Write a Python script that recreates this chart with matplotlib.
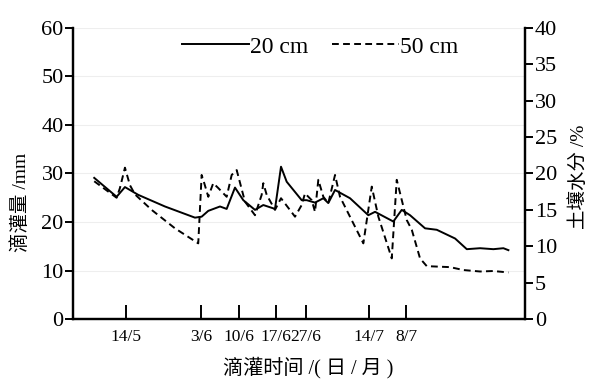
import matplotlib.pyplot as plt

# Fonts: serif for numbers, CJK fallback for Chinese
plt.rcParams["font.family"] = ["Liberation Serif", "Noto Sans CJK SC"]

# Data (x in relative position along the time axis, 0-100; y in mm on left axis)
x_20 = [4.61, 9.57, 11.41, 14.35, 20.27, 26.91, 28.39, 29.86, 32.45, 33.93, 35.77, 37.61,
        40.20, 42.04, 44.63, 45.96, 47.22, 50.54, 51.65, 53.49, 55.33, 56.43, 57.92, 61.24,
        65.29, 66.78, 70.83, 72.69, 74.53, 77.85, 80.44, 84.50, 87.09, 90.03, 92.98, 95.19, 96.30]
y_20 = [29.1, 25.2, 27.2, 25.6, 23.2, 20.9, 21.1, 22.3, 23.2, 22.7, 27.1, 24.5,
        22.5, 23.5, 22.7, 31.4, 28.3, 24.5, 24.5, 24.0, 24.9, 23.9, 26.6, 24.9,
        21.4, 22.1, 20.1, 22.5, 21.4, 18.7, 18.4, 16.6, 14.4, 14.6, 14.4, 14.6, 14.2]

x_50 = [4.61, 9.57, 10.30, 11.41, 12.51, 13.62, 17.32, 22.48, 27.64, 28.39, 28.97, 29.86,
        30.96, 32.07, 33.93, 35.04, 36.15, 37.98, 40.20, 41.68, 42.04, 42.79, 44.63, 45.96,
        49.06, 50.54, 51.27, 52.76, 53.49, 54.22, 55.33, 56.43, 57.92, 59.02, 64.19, 66.05,
        67.51, 70.48, 71.58, 73.80, 74.91, 76.74, 78.23, 83.39, 86.34, 90.03, 92.98, 96.30]
y_50 = [28.4, 25.0, 27.0, 31.2, 27.6, 25.7, 22.5, 18.7, 15.6, 29.7, 28.0, 25.2,
        28.0, 27.0, 25.2, 29.7, 30.7, 24.2, 21.4, 25.6, 28.0, 25.6, 22.5, 24.9,
        21.1, 23.5, 25.9, 24.5, 22.1, 28.7, 25.2, 23.9, 29.7, 25.2, 15.6, 27.3,
        21.1, 12.5, 28.7, 20.4, 18.4, 12.5, 10.9, 10.7, 10.1, 9.8, 9.9, 9.6]

tick_pos = [11.56, 28.24, 36.65, 44.85, 51.4, 65.45, 73.65]
tick_labels = ["14/5", "3/6", "10/6", "17/6", "27/6", "14/7", "8/7"]

# Plot
fig = plt.figure(figsize=(5.92, 3.83), dpi=100)
ax = fig.add_axes([0.124, 0.167, 0.763, 0.76])
ax2 = ax.twinx()

for yv in range(10, 70, 10):
    ax.axhline(yv, color="#eeeeee", lw=0.8, zorder=0)

ax.plot(x_20, y_20, color="black", lw=1.4, label="20 cm")
ax.plot(x_50, y_50, color="black", lw=1.4, linestyle=(0, (3.5, 2.2)), label="50 cm")

ax.set_xlim(0, 100)
ax.set_ylim(0, 60)
ax2.set_ylim(0, 40)
ax.set_yticks(range(0, 61, 10))
ax2.set_yticks(range(0, 41, 5))
ax.set_xticks(tick_pos)
ax.set_xticklabels(tick_labels, fontsize=12.5)

for a in (ax, ax2):
    a.spines["top"].set_visible(False)
    for s in a.spines.values():
        s.set_linewidth(1.6)
ax.tick_params(axis="y", direction="out", length=6, width=1.4, labelsize=16, pad=1)
ax2.tick_params(axis="y", direction="out", length=6, width=1.4, labelsize=16, pad=1)
ax.tick_params(axis="x", direction="in", length=10, width=1.4, pad=7)

ax.set_ylabel("滴灌量 /mm", fontsize=14)
ax.yaxis.set_label_coords(-0.096, 0.40)
ax2.set_ylabel("土壤水分 /%", fontsize=14)
ax2.yaxis.set_label_coords(1.097, 0.49)
ax.set_xlabel("滴灌时间 /( 日 / 月 )", fontsize=14.5)
ax.xaxis.set_label_coords(0.519, -0.13)

ax.legend(loc="center", bbox_to_anchor=(0.546, 0.935), ncol=2, frameon=False,
          fontsize=17, handlelength=2.85, handletextpad=0.05, columnspacing=1.0)

plt.savefig("out.png", dpi=100)
